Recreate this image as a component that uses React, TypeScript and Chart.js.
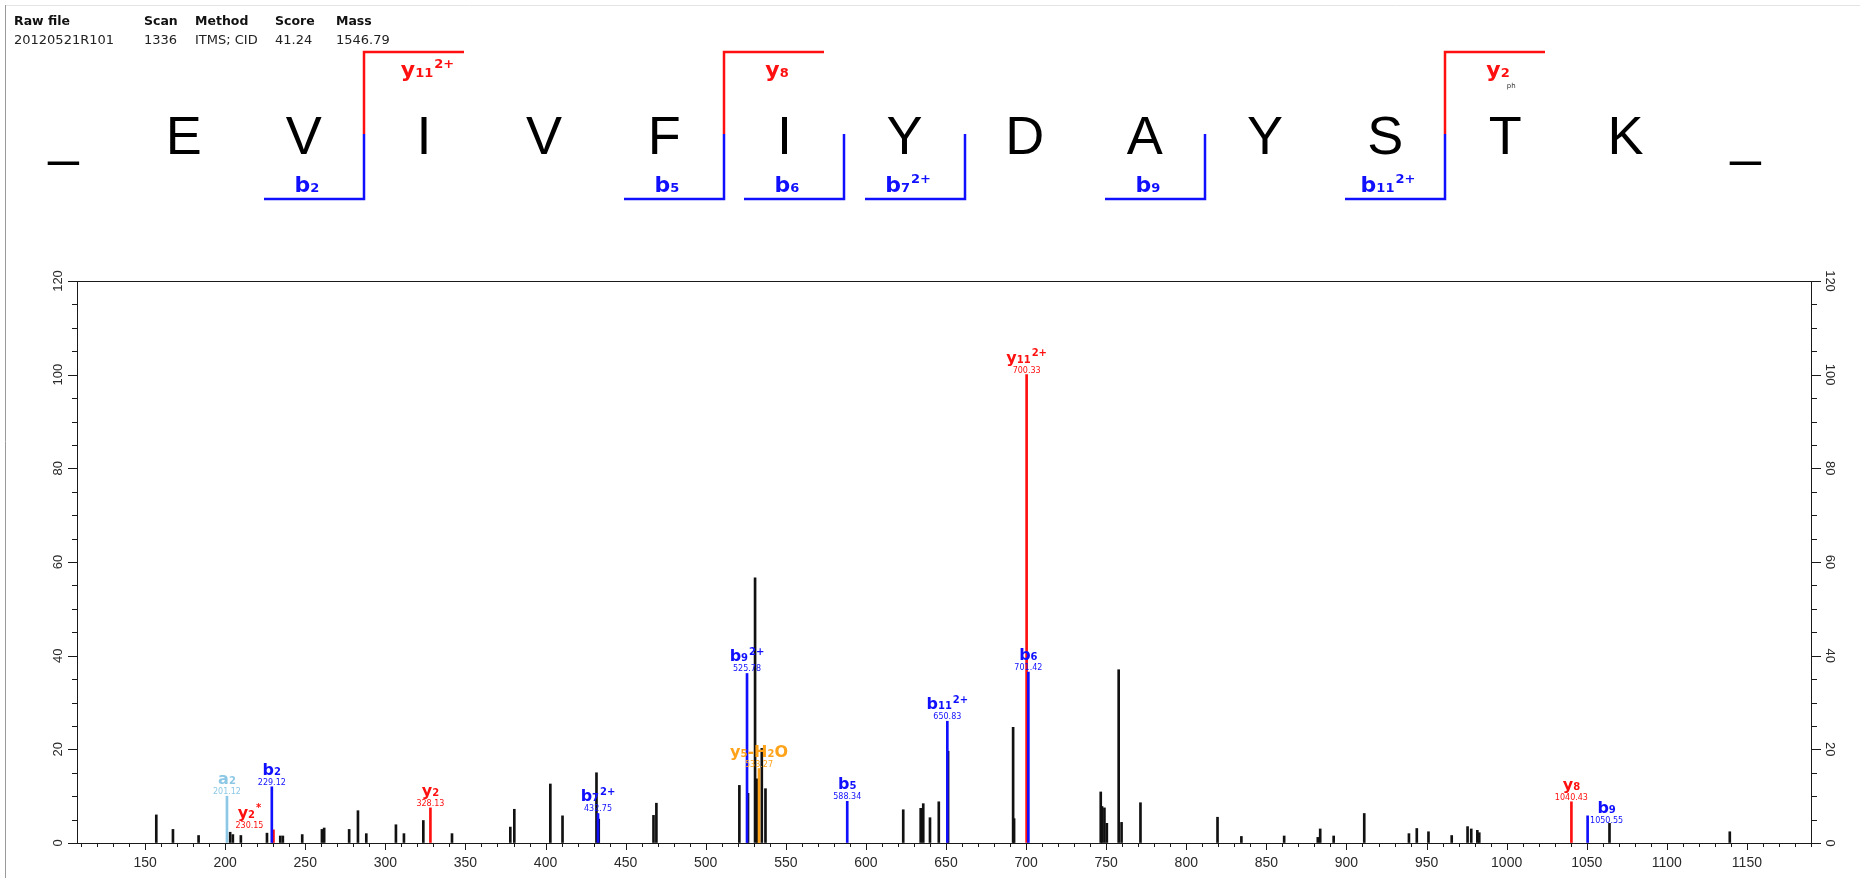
import React, { useEffect, useRef } from "react";
import { Chart, registerables } from "chart.js";

Chart.register(...registerables);

// ---------------- header info ----------------
const headerTitles = ["Raw file", "Scan", "Method", "Score", "Mass"];
const headerValues = ["20120521R101", "1336", "ITMS; CID", "41.24", "1546.79"];

// ---------------- peptide sequence ----------------
const sequence = ["_", "E", "V", "I", "V", "F", "I", "Y", "D", "A", "Y", "S", "T", "K", "_"];
const bSites = [2, 5, 6, 7, 9, 11];
const bSiteLabels = ["b_{2}", "b_{5}", "b_{6}", "b_{7}^{2+}", "b_{9}", "b_{11}^{2+}"];
const ySites = [2, 5, 11];
const ySiteLabels = ["y_{11}^{2+}", "y_{8}", "y_{2}"];
const modSites = [12];
const modLabels = ["ph"];

// ---------------- axes ----------------
const xMin = 107.5;
const xMax = 1190;
const xTickStep = 10;
const xLabelStep = 50;
const yMin = 0;
const yMax = 120;
const yTickStep = 5;
const yLabelStep = 20;

// ---------------- spectrum: unassigned peaks ----------------
const otherMz = [
  157.0, 167.4, 183.4, 203.1, 204.8, 209.8, 226.1, 234.4, 236.0, 248.1, 260.4, 261.8, 277.4, 282.9,
  288.1, 306.6, 311.6, 323.7, 341.6, 378.0, 380.5, 403.0, 410.6, 431.8, 433.2, 467.4, 469.2, 521.0,
  526.4, 530.8, 532.0, 535.0, 537.3, 623.3, 634.2, 635.8, 640.0, 645.5, 651.3, 691.9, 692.5, 746.6,
  747.4, 748.9, 750.4, 757.8, 759.6, 771.4, 819.5, 834.4, 861.1, 882.1, 883.6, 892.0, 911.1, 939.0,
  943.9, 951.2, 965.7, 975.6, 977.9, 981.7, 982.9, 1064.2, 1139.3,
];
const otherInt = [
  6.0, 2.9, 1.6, 2.3, 1.8, 1.6, 2.1, 1.5, 1.5, 1.8, 2.9, 3.2, 2.9, 6.9,
  2.0, 3.9, 2.0, 4.8, 2.0, 3.4, 7.2, 12.6, 5.8, 15.0, 5.1, 5.9, 8.5, 12.3,
  10.6, 56.6, 13.7, 20.2, 11.6, 7.1, 7.4, 8.4, 5.4, 8.8, 19.6, 24.7, 5.2, 10.9,
  7.8, 7.5, 4.2, 37.0, 4.4, 8.6, 5.5, 1.4, 1.5, 1.2, 3.0, 1.5, 6.3, 2.0,
  3.1, 2.4, 1.6, 3.5, 3.0, 2.7, 2.2, 4.2, 2.4,
];

// ---------------- spectrum: assigned peaks ----------------
const bIonMz = [229.12, 432.75, 525.78, 588.34, 650.83, 701.42, 1050.55];
const bIonInt = [12.0, 6.3, 36.2, 8.9, 26.0, 36.5, 5.8];
const bIonLabels = ["b_{2}", "b_{7}^{2+}", "b_{9}^{2+}", "b_{5}", "b_{11}^{2+}", "b_{6}", "b_{9}"];

const yIonMz = [230.15, 328.13, 700.33, 1040.43];
const yIonInt = [2.8, 7.5, 100, 8.8];
const yIonLabels = ["y_{2}^{*}", "y_{2}", "y_{11}^{2+}", "y_{8}"];

const aIonMz = [201.12];
const aIonInt = [10.0];
const aIonLabels = ["a_{2}"];

const lossIonMz = [533.27];
const lossIonInt = [15.9];
const lossIonLabels = ["y_{5}-H_{2}O"];

// ---------------- styling ----------------
const COLORS = { b: "#1010ff", y: "#ff1010", a: "#8cc8e6", loss: "#ffa31a", other: "#111111" };
const LABEL_FONT = "'DejaVu Sans', sans-serif";
const AXIS_FONT = "'Liberation Sans', Arial, sans-serif";

type Tok = { kind: "n" | "sub" | "sup"; text: string };
function parseIon(label: string): Tok[] {
  const out: Tok[] = [];
  const re = /_\{([^}]*)\}|\^\{([^}]*)\}|([^_^]+)/g;
  let m: RegExpExecArray | null;
  while ((m = re.exec(label))) {
    if (m[1] !== undefined) out.push({ kind: "sub", text: m[1] });
    else if (m[2] !== undefined) out.push({ kind: "sup", text: m[2] });
    else out.push({ kind: "n", text: m[3] });
  }
  return out;
}

// draws an ion label; anchor: 'all' centers whole label, 'base' centers non-superscript part
function drawIon(
  ctx: CanvasRenderingContext2D,
  label: string,
  cx: number,
  baseline: number,
  main: number,
  small: number,
  color: string,
  anchor: "all" | "base" = "all"
) {
  const toks = parseIon(label);
  const fontFor = (k: string) => `bold ${k === "n" ? main : small}px ${LABEL_FONT}`;
  let total = 0;
  let base = 0;
  const widths = toks.map((t) => {
    ctx.font = fontFor(t.kind);
    const w = ctx.measureText(t.text).width + (t.kind === "sup" ? 1 : 0);
    total += w;
    if (t.kind !== "sup") base += w;
    return w;
  });
  let x = cx - (anchor === "all" ? total : base) / 2;
  ctx.fillStyle = color;
  ctx.textAlign = "left";
  ctx.textBaseline = "alphabetic";
  toks.forEach((t, i) => {
    ctx.font = fontFor(t.kind);
    const dy = t.kind === "sup" ? -main * 0.42 : 0;
    ctx.fillText(t.text, x + (t.kind === "sup" ? 1 : 0), baseline + dy);
    x += widths[i];
  });
}

export default function App() {
  const ref = useRef<HTMLCanvasElement>(null);

  useEffect(() => {
    const canvas = ref.current;
    if (!canvas) return;

    const toPts = (mz: number[], it: number[]) => mz.map((m, i) => ({ x: m, y: it[i] }));
    const annotated = [
      { mz: bIonMz, int: bIonInt, labels: bIonLabels, color: COLORS.b },
      { mz: yIonMz, int: yIonInt, labels: yIonLabels, color: COLORS.y },
      { mz: aIonMz, int: aIonInt, labels: aIonLabels, color: COLORS.a },
      { mz: lossIonMz, int: lossIonInt, labels: lossIonLabels, color: COLORS.loss },
    ];

    // layout tweaks for crowded labels (pixels)
    const labelNudge: Record<string, [number, number]> = {
      "y_{2}^{*}": [-24, 0],
      "b_{9}": [19, 9],
    };

    const decorPlugin = {
      id: "decor",
      afterDraw(chart: any) {
        const ctx: CanvasRenderingContext2D = chart.ctx;
        const { left, right, top, bottom } = chart.chartArea;
        const xs = chart.scales.x;
        const ys = chart.scales.y;
        ctx.save();

        // window frame lines
        ctx.strokeStyle = "#9a9a9a";
        ctx.lineWidth = 1;
        ctx.beginPath();
        ctx.moveTo(5.5, 5);
        ctx.lineTo(5.5, 878);
        ctx.stroke();
        ctx.strokeStyle = "#e4e4e4";
        ctx.beginPath();
        ctx.moveTo(6, 5.5);
        ctx.lineTo(1860, 5.5);
        ctx.stroke();

        // plot frame
        ctx.strokeStyle = "#1a1a1a";
        ctx.lineWidth = 1;
        ctx.strokeRect(Math.round(left) + 0.5, Math.round(top) + 0.5, Math.round(right - left), Math.round(bottom - top));

        // x tick marks
        ctx.beginPath();
        xs.ticks.forEach((t: any) => {
          const px = Math.round(xs.getPixelForValue(t.value)) + 0.5;
          const major = Math.abs(t.value % xLabelStep) < 1e-6;
          ctx.moveTo(px, Math.round(bottom));
          ctx.lineTo(px, Math.round(bottom) + (major ? 7 : 4));
        });
        // y tick marks, both sides
        ys.ticks.forEach((t: any) => {
          const py = Math.round(ys.getPixelForValue(t.value)) + 0.5;
          const major = Math.abs(t.value % yLabelStep) < 1e-6;
          const len = major ? 9 : 5;
          ctx.moveTo(Math.round(left), py);
          ctx.lineTo(Math.round(left) - len, py);
          ctx.moveTo(Math.round(right) + 1, py);
          ctx.lineTo(Math.round(right) + 1 + len, py);
        });
        ctx.stroke();

        // peak annotations
        annotated.forEach((s) => {
          s.mz.forEach((mz, i) => {
            const px = xs.getPixelForValue(mz);
            const py = ys.getPixelForValue(s.int[i]);
            const nudge = labelNudge[s.labels[i]] || [0, 0];
            const cx = px + nudge[0];
            const cy = py + nudge[1];
            ctx.font = `8px ${LABEL_FONT}`;
            ctx.fillStyle = s.color;
            ctx.textAlign = "center";
            ctx.textBaseline = "alphabetic";
            ctx.fillText(mz.toFixed(2), cx, cy - 2);
            drawIon(ctx, s.labels[i], cx, cy - 12, 16, 10, s.color, "all");
          });
        });

        // ---------- header ----------
        const colX = [14, 144, 195, 275, 336];
        ctx.fillStyle = "#111";
        ctx.textAlign = "left";
        ctx.textBaseline = "alphabetic";
        headerTitles.forEach((t, i) => {
          ctx.font = `bold 12.5px ${LABEL_FONT}`;
          ctx.fillText(t, colX[i], 25);
        });
        headerValues.forEach((t, i) => {
          ctx.font = `13px ${LABEL_FONT}`;
          ctx.fillStyle = "#222";
          ctx.fillText(t, colX[i], 44);
        });

        // ---------- sequence ----------
        const seqX = (i: number) => 63.5 + 120.15 * i;
        ctx.fillStyle = "#000";
        ctx.textAlign = "center";
        ctx.font = `54px ${AXIS_FONT}`;
        sequence.forEach((aa, i) => {
          ctx.fillText(aa, seqX(i), 154);
        });

        const yTop = 52;
        const ySplit = 134;
        const yBot = 199;
        const arm = 100;
        ctx.lineWidth = 2.5;
        // y brackets (red, above)
        ySites.forEach((site, k) => {
          const sx = Math.round(seqX(site + 0.5));
          ctx.strokeStyle = COLORS.y;
          ctx.beginPath();
          ctx.moveTo(sx, ySplit);
          ctx.lineTo(sx, yTop);
          ctx.lineTo(sx + arm, yTop);
          ctx.stroke();
          drawIon(ctx, ySiteLabels[k], sx + 53, 77, 22, 13, COLORS.y, "base");
        });
        // b brackets (blue, below)
        bSites.forEach((site, k) => {
          const sx = Math.round(seqX(site + 0.5));
          ctx.strokeStyle = COLORS.b;
          ctx.beginPath();
          ctx.moveTo(sx, ySplit);
          ctx.lineTo(sx, yBot);
          ctx.lineTo(sx - arm, yBot);
          ctx.stroke();
          drawIon(ctx, bSiteLabels[k], sx - 57, 192, 22, 13, COLORS.b, "all");
        });
        // modification marks
        ctx.fillStyle = "#333";
        ctx.textAlign = "center";
        ctx.font = `7px ${LABEL_FONT}`;
        modSites.forEach((site, k) => {
          ctx.fillText(modLabels[k], seqX(site) + 6, 88);
        });

        ctx.restore();
      },
    };

    const common = { stack: "peaks", barThickness: 2, borderWidth: 0, xAxisID: "x", yAxisID: "y" };

    const chart = new Chart(canvas, {
      type: "bar",
      data: {
        datasets: [
          { ...common, label: "b ions", data: toPts(bIonMz, bIonInt), backgroundColor: COLORS.b },
          { ...common, label: "y ions", data: toPts(yIonMz, yIonInt), backgroundColor: COLORS.y },
          { ...common, label: "a ions", data: toPts(aIonMz, aIonInt), backgroundColor: COLORS.a },
          { ...common, label: "neutral loss", data: toPts(lossIonMz, lossIonInt), backgroundColor: COLORS.loss },
          { ...common, label: "unassigned", data: toPts(otherMz, otherInt), backgroundColor: COLORS.other },
        ] as any,
      },
      options: {
        responsive: false,
        maintainAspectRatio: false,
        devicePixelRatio: 1,
        animation: false,
        layout: { padding: { top: 281, left: 0, right: 0, bottom: 0 } },
        plugins: { legend: { display: false }, tooltip: { enabled: false } },
        scales: {
          x: {
            type: "linear",
            position: "bottom",
            min: xMin,
            max: xMax,
            offset: false,
            grid: { display: true, drawOnChartArea: false, drawTicks: false, offset: false },
            border: { display: false },
            ticks: {
              stepSize: xTickStep,
              autoSkip: false,
              includeBounds: false,
              minRotation: 0,
              maxRotation: 0,
              padding: 12,
              color: "#2a2a2a",
              font: { family: AXIS_FONT, size: 14 },
              callback: (v: any) => (Math.abs(Number(v) % xLabelStep) < 1e-6 ? String(v) : ""),
            },
            afterFit: (s: any) => {
              s.height = 35;
            },
          },
          y: {
            type: "linear",
            position: "left",
            min: yMin,
            max: yMax,
            grid: { display: true, drawOnChartArea: false, drawTicks: false },
            border: { display: false },
            ticks: {
              stepSize: yTickStep,
              autoSkip: false,
              includeBounds: false,
              minRotation: 90,
              maxRotation: 90,
              crossAlign: "center",
              padding: 8,
              color: "#2a2a2a",
              font: { family: AXIS_FONT, size: 13 },
              callback: (v: any) => (Math.abs(Number(v) % yLabelStep) < 1e-6 ? String(v) : ""),
            },
            afterFit: (s: any) => {
              s.width = 77;
            },
          },
          y2: {
            type: "linear",
            position: "right",
            display: true,
            min: yMin,
            max: yMax,
            grid: { display: true, drawOnChartArea: false, drawTicks: false },
            border: { display: false },
            ticks: {
              stepSize: yTickStep,
              autoSkip: false,
              includeBounds: false,
              minRotation: -90,
              maxRotation: -90,
              crossAlign: "center",
              padding: 8,
              color: "#2a2a2a",
              font: { family: AXIS_FONT, size: 13 },
              callback: (v: any) => (Math.abs(Number(v) % yLabelStep) < 1e-6 ? String(v) : ""),
            },
            afterFit: (s: any) => {
              s.width = 49;
            },
          },
        },
      } as any,
      plugins: [decorPlugin],
    });

    return () => chart.destroy();
  }, []);

  return (
    <div style={{ position: "fixed", left: 0, top: 0, width: 1860, height: 878, background: "#fff" }}>
      <canvas ref={ref} width={1860} height={878} style={{ display: "block", width: 1860, height: 878 }} />
    </div>
  );
}
